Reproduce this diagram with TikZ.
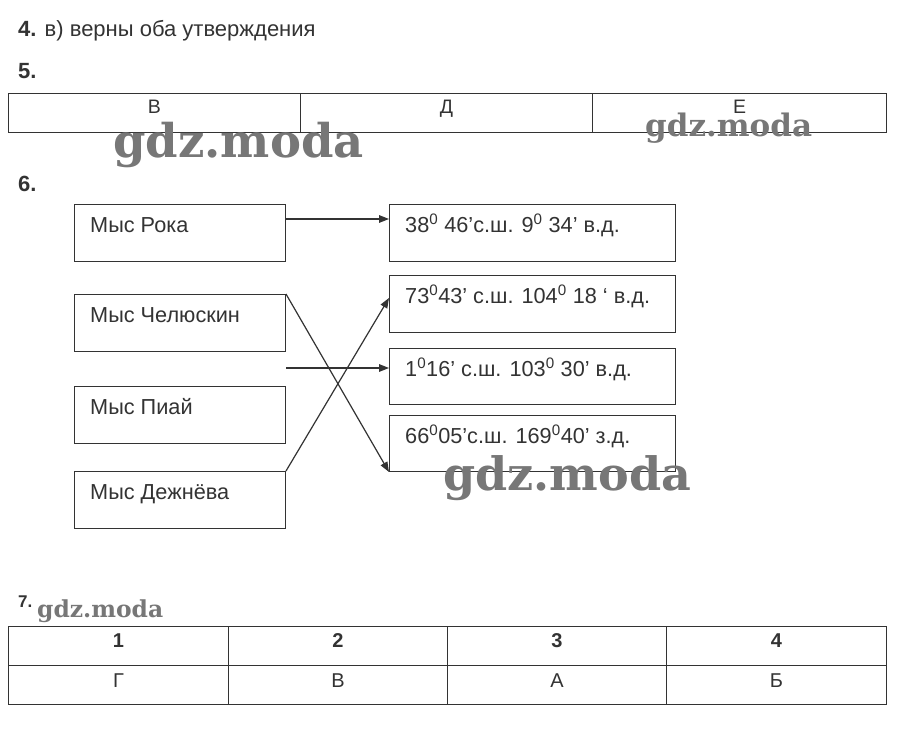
\documentclass[tikz,border=0pt]{standalone}
\usepackage{fontspec}
\setmainfont{Liberation Sans}
\newfontfamily\wmfont{DejaVu Serif}
\usetikzlibrary{arrows.meta}
\definecolor{ink}{HTML}{333333}
\definecolor{wm}{HTML}{777777}
\begin{document}
\begin{tikzpicture}[x=1pt,y=-1pt,
  every node/.style={text=ink},
  lbox/.style={draw=ink,line width=1pt,minimum width=211pt,minimum height=57pt,anchor=north west,inner sep=0pt},
  rbox/.style={draw=ink,line width=1pt,minimum width=286pt,anchor=north west,inner sep=0pt},
  cellbox/.style={draw=ink,line width=1pt,anchor=north west,inner sep=0pt},
  txt/.style={anchor=base west,inner sep=0pt,font=\fontsize{21.7}{26}\selectfont},
  ctxt/.style={anchor=base,inner sep=0pt,font=\fontsize{20}{24}\selectfont},
  hdr/.style={anchor=base west,inner sep=0pt,font=\fontsize{22}{26}\selectfont},
  arr/.style={draw=ink,line width=1.4pt,-{Triangle[length=10pt,width=7.5pt]}},
  lnk/.style={draw=ink,line width=1.2pt,-{Triangle[length=10pt,width=7.5pt]}},
  wmark/.style={inner sep=0pt,anchor=base west,text=wm}
]
\useasboundingbox[fill=white] (0,0) rectangle (899,752);

% headings
\node[hdr] (h4) at (18,37) {\textbf{4.} в) верны оба утверждения};
\node[hdr] (h5) at (18,78) {\textbf{5.}};
\node[hdr] (h6) at (18,191) {\textbf{6.}};
\node[hdr,font=\fontsize{17}{20}\selectfont] (h7) at (18,607) {\textbf{7.}};

% table 5
\node[cellbox,minimum width=292pt,minimum height=39pt] (t5a) at (8,93) {};
\node[cellbox,minimum width=292pt,minimum height=39pt] (t5b) at (300,93) {};
\node[cellbox,minimum width=294pt,minimum height=39pt] (t5c) at (592,93) {};
\node[ctxt,font=\fontsize{19.5}{23}\selectfont] (t5at) at ([yshift=-20pt]t5a.north) {В};
\node[ctxt,font=\fontsize{19.5}{23}\selectfont] (t5bt) at ([yshift=-20pt]t5b.north) {Д};
\node[ctxt,font=\fontsize{19.5}{23}\selectfont] (t5ct) at ([yshift=-20pt]t5c.north) {Е};

% left boxes
\node[lbox] (rok) at (74,204) {};
\node[lbox] (chel) at (74,294) {};
\node[lbox] (piai) at (74,386) {};
\node[lbox] (dezh) at (74,471) {};
\node[txt] (rokt) at ([xshift=16pt,yshift=-28pt]rok.north west) {Мыс Рока};
\node[txt] (chelt) at ([xshift=16pt,yshift=-28pt]chel.north west) {Мыс Челюскин};
\node[txt] (piait) at ([xshift=16pt,yshift=-28pt]piai.north west) {Мыс Пиай};
\node[txt] (dezht) at ([xshift=16pt,yshift=-28pt]dezh.north west) {Мыс Дежнёва};

% right boxes
\node[rbox,minimum height=57pt] (r1) at (389,204) {};
\node[rbox,minimum height=57pt] (r2) at (389,275) {};
\node[rbox,minimum height=56pt] (r3) at (389,348) {};
\node[rbox,minimum height=56pt] (r4) at (389,415) {};
\node[txt] (r1t) at ([xshift=16pt,yshift=-28pt]r1.north west) {38\textsuperscript{0} 46’с.ш. 9\textsuperscript{0} 34\symbol{39} в.д.};
\node[txt] (r2t) at ([xshift=16pt,yshift=-28pt]r2.north west) {73\textsuperscript{0}43\symbol{39} с.ш. 104\textsuperscript{0} 18 ‘ в.д.};
\node[txt] (r3t) at ([xshift=16pt,yshift=-28pt]r3.north west) {1\textsuperscript{0}16’ с.ш. 103\textsuperscript{0} 30’ в.д.};
\node[txt] (r4t) at ([xshift=16pt,yshift=-28pt]r4.north west) {66\textsuperscript{0}05’с.ш. 169\textsuperscript{0}40’ з.д.};

% connectors
\draw[arr] ([yshift=14pt]rok.east) -- ([yshift=14pt]r1.west);
\coordinate (mid) at (286,368);
\draw[arr] (mid) -- (mid -| r3.west);
\draw[lnk] (chel.north east) -- (r4.south west);
\draw[lnk] (dezh.north east) -- ([yshift=6pt]r2.west);

% table 7
\node[cellbox,minimum width=220pt,minimum height=39pt] (c1) at (8,626) {};
\node[cellbox,minimum width=219pt,minimum height=39pt] (c2) at (228,626) {};
\node[cellbox,minimum width=219pt,minimum height=39pt] (c3) at (447,626) {};
\node[cellbox,minimum width=220pt,minimum height=39pt] (c4) at (666,626) {};
\node[cellbox,minimum width=220pt,minimum height=39pt] (d1) at (8,665) {};
\node[cellbox,minimum width=219pt,minimum height=39pt] (d2) at (228,665) {};
\node[cellbox,minimum width=219pt,minimum height=39pt] (d3) at (447,665) {};
\node[cellbox,minimum width=220pt,minimum height=39pt] (d4) at (666,665) {};
\node[ctxt] (c1t) at ([yshift=-21pt]c1.north) {\textbf{1}};
\node[ctxt] (c2t) at ([yshift=-21pt]c2.north) {\textbf{2}};
\node[ctxt] (c3t) at ([yshift=-21pt]c3.north) {\textbf{3}};
\node[ctxt] (c4t) at ([yshift=-21pt]c4.north) {\textbf{4}};
\node[ctxt] (d1t) at ([yshift=-22pt]d1.north) {Г};
\node[ctxt] (d2t) at ([yshift=-22pt]d2.north) {В};
\node[ctxt] (d3t) at ([yshift=-22pt]d3.north) {А};
\node[ctxt] (d4t) at ([yshift=-22pt]d4.north) {Б};

% watermarks
\node[wmark,font=\wmfont\bfseries\fontsize{46.5}{46}\selectfont] (w1) at (113,157) {gdz.moda};
\node[wmark,font=\wmfont\bfseries\fontsize{31}{31}\selectfont] (w2) at (645,136) {gdz.moda};
\node[wmark,font=\wmfont\bfseries\fontsize{46}{46}\selectfont] (w3) at (443,490) {gdz.moda};
\node[wmark,font=\wmfont\bfseries\fontsize{23.4}{23}\selectfont] (w4) at (37,617) {gdz.moda};
\end{tikzpicture}
\end{document}
